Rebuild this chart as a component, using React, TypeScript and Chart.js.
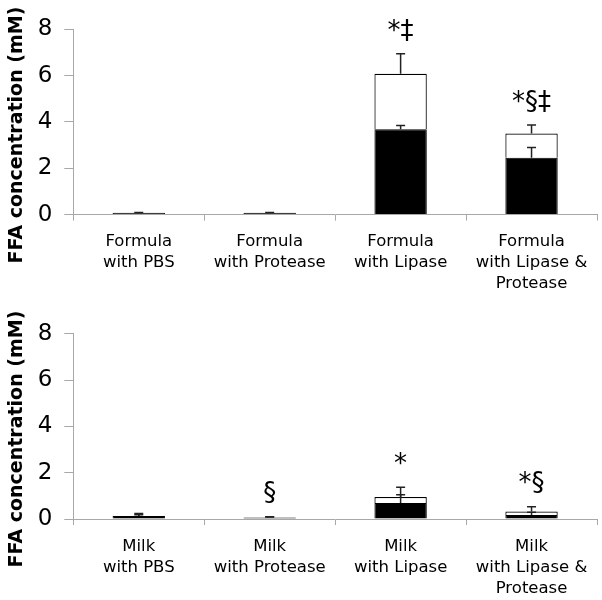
import React, { useEffect, useRef } from "react";
import { Chart, registerables } from "chart.js";

Chart.register(...registerables);

const formulaLabels = [
  ["Formula", "with PBS"],
  ["Formula", "with Protease"],
  ["Formula", "with Lipase"],
  ["Formula", "with Lipase &", "Protease"],
];
const formulaBlack = [0.08, 0.08, 3.69, 2.45];
const formulaWhite = [0, 0, 2.39, 1.05];
const formulaBlackErr = [0, 0, 0.16, 0.45];
const formulaTotalErr = [0.01, 0.01, 0.86, 0.37];
const formulaMarks = ["", "", "*‡", "*§‡"];

const milkLabels = [
  ["Milk", "with PBS"],
  ["Milk", "with Protease"],
  ["Milk", "with Lipase"],
  ["Milk", "with Lipase &", "Protease"],
];
const milkBlack = [0.13, 0.07, 0.69, 0.17];
const milkWhite = [0.01, 0, 0.26, 0.15];
const milkBlackErr = [0.05, 0.02, 0.36, 0.12];
const milkTotalErr = [0.1, 0.03, 0.42, 0.21];
const milkMarks = ["", "§", "*", "*§"];

const yTicks = [0, 2, 4, 6, 8];
const yTitle = "FFA concentration (mM)";

const FONT = "'DejaVu Sans', Verdana, sans-serif";

type PanelProps = {
  labels: string[][];
  black: number[];
  white: number[];
  blackErr: number[];
  totalErr: number[];
  marks: string[];
  padTop: number;
  titleY: number;
};

function Panel(props: PanelProps) {
  const ref = useRef<HTMLCanvasElement | null>(null);
  useEffect(() => {
    const { labels, black, white, blackErr, totalErr, marks, padTop, titleY } = props;
    const plotH = 185.3;
    const xAxisH = 300 - padTop - plotH;

    const extras = {
      id: "extras",
      afterDatasetsDraw(chart: any) {
        const ctx = chart.ctx;
        const xs = chart.scales.x;
        const ys = chart.scales.y;
        ctx.save();
        ctx.strokeStyle = "#222";
        ctx.lineWidth = 1.5;
        const cap = 4.5;
        const drawErr = (x: number, v: number, e: number) => {
          if (e <= 0) return;
          const y0 = ys.getPixelForValue(v);
          const y1 = ys.getPixelForValue(v + e);
          ctx.beginPath();
          ctx.moveTo(x, y0);
          ctx.lineTo(x, y1);
          ctx.moveTo(x - cap, y1);
          ctx.lineTo(x + cap, y1);
          ctx.stroke();
        };
        for (let i = 0; i < labels.length; i++) {
          const x = xs.getPixelForValue(i);
          drawErr(x, black[i], blackErr[i]);
          drawErr(x, black[i] + white[i], totalErr[i]);
          if (marks[i]) {
            const top = ys.getPixelForValue(black[i] + white[i] + totalErr[i]);
            ctx.fillStyle = "#000";
            ctx.font = `26px ${FONT}`;
            ctx.textAlign = "center";
            ctx.textBaseline = "middle";
            ctx.fillText(marks[i], x, top - 22);
          }
        }
        // y-axis title
        ctx.translate(17, titleY);
        ctx.rotate(-Math.PI / 2);
        ctx.fillStyle = "#000";
        ctx.font = `bold 19px ${FONT}`;
        ctx.textAlign = "center";
        ctx.textBaseline = "middle";
        ctx.fillText(yTitle, 0, 0);
        ctx.restore();
      },
    };

    const chart = new Chart(ref.current as HTMLCanvasElement, {
      type: "bar",
      data: {
        labels: labels as any,
        datasets: [
          {
            data: black,
            backgroundColor: "#000",
            borderColor: "#000",
            borderWidth: 1,
            barPercentage: 0.4,
            categoryPercentage: 1,
          },
          {
            data: white,
            backgroundColor: "#fff",
            borderColor: "#000",
            borderWidth: 1.2,
            barPercentage: 0.4,
            categoryPercentage: 1,
          },
        ],
      },
      options: {
        animation: false,
        responsive: false,
        layout: { padding: { left: 0, right: 5, top: padTop, bottom: 0 } },
        plugins: { legend: { display: false }, tooltip: { enabled: false } },
        scales: {
          x: {
            stacked: true,
            afterFit: (s: any) => {
              s.height = xAxisH;
            },
            grid: {
              display: true,
              drawOnChartArea: false,
              drawTicks: true,
              tickLength: 6,
              color: "#a8a8a8",
              offset: true,
            },
            border: { color: "#a8a8a8", width: 1 },
            ticks: {
              color: "#000",
              font: { family: FONT, size: 16.5, lineHeight: 1.27 },
              padding: 11,
              maxRotation: 0,
              autoSkip: false,
            },
          },
          y: {
            stacked: true,
            min: 0,
            max: 8,
            afterFit: (s: any) => {
              s.width = 73.3;
            },
            afterBuildTicks: (s: any) => {
              s.ticks = yTicks.map((v) => ({ value: v }));
            },
            grid: {
              display: true,
              drawOnChartArea: false,
              drawTicks: true,
              tickLength: 9,
              color: "#a8a8a8",
            },
            border: { color: "#a8a8a8", width: 1 },
            ticks: {
              color: "#000",
              font: { family: FONT, size: 23 },
              padding: 12,
            },
          },
        },
      },
      plugins: [extras],
    });
    return () => chart.destroy();
  }, []);
  return <canvas ref={ref} width={602} height={300} style={{ display: "block", width: 602, height: 300 }} />;
}

export default function App() {
  return (
    <div style={{ position: "absolute", left: 0, top: 0, width: 602, height: 600, background: "#fff" }}>
      <Panel
        labels={formulaLabels}
        black={formulaBlack}
        white={formulaWhite}
        blackErr={formulaBlackErr}
        totalErr={formulaTotalErr}
        marks={formulaMarks}
        padTop={29.3}
        titleY={135}
      />
      <Panel
        labels={milkLabels}
        black={milkBlack}
        white={milkWhite}
        blackErr={milkBlackErr}
        totalErr={milkTotalErr}
        marks={milkMarks}
        padTop={33.7}
        titleY={139}
      />
    </div>
  );
}
